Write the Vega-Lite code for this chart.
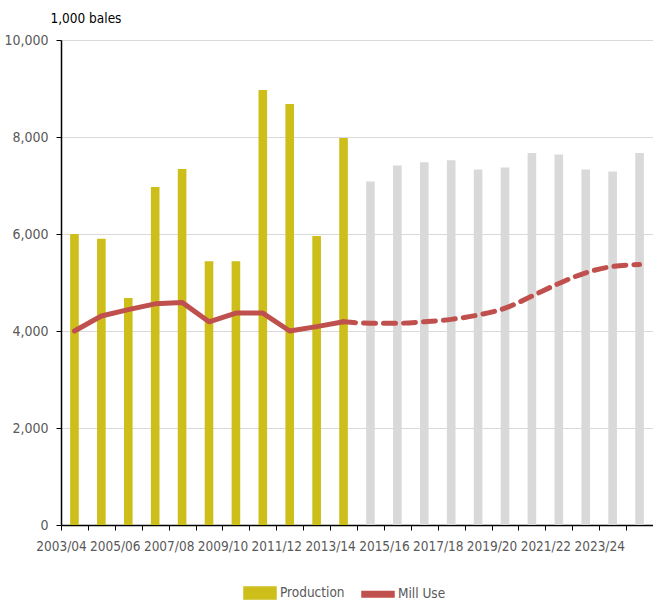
{
  "$schema": "https://vega.github.io/schema/vega-lite/v6.json",
  "width": 592,
  "height": 485,
  "autosize": {"type": "none"},
  "padding": {"left": 61, "top": 40, "right": 0, "bottom": 77},
  "background": "white",
  "config": {
    "font": "DejaVu Sans Condensed, sans-serif",
    "view": {"stroke": null},
    "axis": {"labelFont": "DejaVu Sans Condensed, sans-serif", "labelFontSize": 13.5, "labelColor": "#595959", "domainColor": "#000000", "tickColor": "#000000", "gridColor": "#D9D9D9"}
  },
  "data": {
    "values": [
      {"year": "2003/04", "production": 6000, "mill": 4000, "ptype": "hist"},
      {"year": "2004/05", "production": 5900, "mill": 4310, "ptype": "hist"},
      {"year": "2005/06", "production": 4680, "mill": 4440, "ptype": "hist"},
      {"year": "2006/07", "production": 6970, "mill": 4560, "ptype": "hist"},
      {"year": "2007/08", "production": 7340, "mill": 4590, "ptype": "hist"},
      {"year": "2008/09", "production": 5440, "mill": 4190, "ptype": "hist"},
      {"year": "2009/10", "production": 5440, "mill": 4370, "ptype": "hist"},
      {"year": "2010/11", "production": 8970, "mill": 4370, "ptype": "hist"},
      {"year": "2011/12", "production": 8680, "mill": 4000, "ptype": "hist"},
      {"year": "2012/13", "production": 5960, "mill": 4090, "ptype": "hist"},
      {"year": "2013/14", "production": 7980, "mill": 4190, "ptype": "hist"},
      {"year": "2014/15", "production": 7080, "mill": 4160, "ptype": "proj"},
      {"year": "2015/16", "production": 7410, "mill": 4160, "ptype": "proj"},
      {"year": "2016/17", "production": 7480, "mill": 4190, "ptype": "proj"},
      {"year": "2017/18", "production": 7520, "mill": 4240, "ptype": "proj"},
      {"year": "2018/19", "production": 7330, "mill": 4330, "ptype": "proj"},
      {"year": "2019/20", "production": 7370, "mill": 4470, "ptype": "proj"},
      {"year": "2020/21", "production": 7670, "mill": 4720, "ptype": "proj"},
      {"year": "2021/22", "production": 7640, "mill": 4980, "ptype": "proj"},
      {"year": "2022/23", "production": 7330, "mill": 5200, "ptype": "proj"},
      {"year": "2023/24", "production": 7290, "mill": 5330, "ptype": "proj"},
      {"year": "2024/25", "production": 7670, "mill": 5370, "ptype": "proj"}
    ]
  },
  "encoding": {
    "x": {
      "field": "year", "type": "nominal", "sort": null,
      "scale": {"paddingInner": 0.68, "paddingOuter": 0.34},
      "axis": {
        "title": null, "labelAngle": 0, "bandPosition": 0.5, "tickOffset": -13.45,
        "labelOverlap": false, "tickSize": 5, "labelPadding": 9, "labelFontSize": 13.5,
        "labelExpr": "toNumber(substring(datum.value,0,4)) % 2 == 1 ? datum.value : ''",
        "domainWidth": 1.5
      }
    }
  },
  "layer": [
    {
      "transform": [{"filter": "datum.ptype == 'hist'"}],
      "mark": {"type": "bar"},
      "encoding": {
        "y": {
          "field": "production", "type": "quantitative",
          "scale": {"domain": [0, 10000]},
          "axis": {
            "values": [0, 2000, 4000, 6000, 8000, 10000],
            "labelExpr": "format(datum.value, ',')",
            "title": "1,000 bales", "titleAngle": 0, "titleAlign": "left", "titleBaseline": "middle",
            "titleX": -11, "titleY": -22, "titleFontSize": 13.5, "titleFontWeight": "normal", "titleColor": "#000000",
            "titleFont": "DejaVu Sans Condensed, sans-serif",
            "tickSize": 5, "labelPadding": 8, "domainWidth": 1.5, "labelFontSize": 14
          }
        },
        "color": {
          "datum": "Production", "type": "nominal",
          "scale": {"domain": ["Production", "Mill Use"], "range": ["#CDBE1A", "#C0504D"]},
          "legend": {
            "title": null, "orient": "none", "direction": "horizontal",
            "legendX": 182, "legendY": 536,
            "labelFontSize": 13.5, "labelColor": "#595959",
            "labelFont": "DejaVu Sans Condensed, sans-serif",
            "symbolSize": 1024, "labelOffset": 3, "columnPadding": 14,
            "encode": {
              "symbols": {
                "update": {
                  "shape": {"signal": "datum.value == 'Mill Use' ? 'M-1,-0.17H1V0.17H-1Z' : 'M-1,-0.37H1V0.37H-1Z'"},
                  "fill": {"signal": "datum.value == 'Mill Use' ? '#C0504D' : '#CDBE1A'"},
                  "stroke": {"value": "transparent"},
                  "opacity": {"value": 1},
                  "fillOpacity": {"value": 1}
                }
              }
            }
          }
        }
      }
    },
    {
      "transform": [{"filter": "datum.ptype == 'proj'"}],
      "mark": {"type": "bar", "color": "#D9D9D9"},
      "encoding": {
        "y": {"field": "production", "type": "quantitative"}
      }
    },
    {
      "transform": [{"filter": "datum.ptype == 'hist'"}],
      "mark": {"type": "line", "strokeWidth": 5, "interpolate": "linear", "strokeCap": "round", "strokeJoin": "round"},
      "encoding": {
        "y": {"field": "mill", "type": "quantitative"},
        "color": {"datum": "Mill Use", "type": "nominal"}
      }
    },
    {
      "transform": [{"filter": "datum.ptype == 'proj' || datum.year == '2013/14'"}],
      "mark": {"type": "line", "strokeWidth": 5, "interpolate": "monotone", "strokeDash": [12, 8], "strokeCap": "round"},
      "encoding": {
        "y": {"field": "mill", "type": "quantitative"},
        "color": {"datum": "Mill Use", "type": "nominal"}
      }
    }
  ]
}
